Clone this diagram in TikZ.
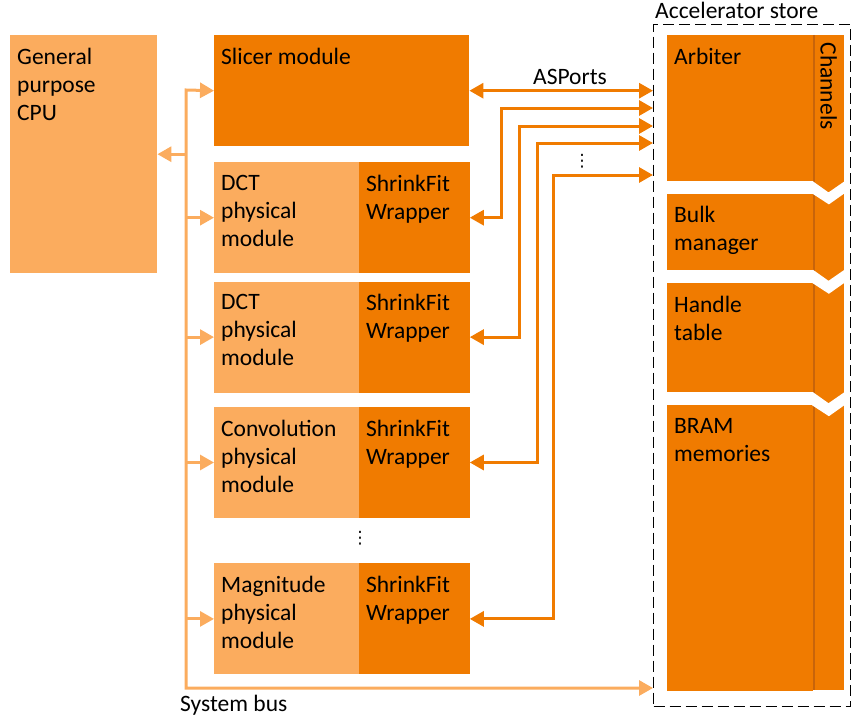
\documentclass[tikz,border=0pt]{standalone}
\usepackage{fontspec}
\setmainfont{Carlito}
\newfontfamily\symfont{DejaVu Sans}
\usetikzlibrary{arrows.meta,positioning}
\definecolor{lightor}{RGB}{251,172,94}
\definecolor{darkor}{RGB}{240,123,0}
\definecolor{chanshade}{RGB}{200,100,10}

\begin{document}
\begin{tikzpicture}[x=1pt, y=-1pt, >={Triangle[length=14pt,width=15pt]},
  every node/.style={font=\fontsize{23.5}{28}\selectfont},
  blk/.style={anchor=north west, inner sep=0pt, fill=#1},
  txt/.style={anchor=north west, align=left, inner xsep=7pt, inner ysep=13pt, execute at begin node=\strut},
  onetxt/.style={txt, yshift=3.5pt},
  vdots/.style={inner sep=0pt, font=\symfont\fontsize{17}{20}\selectfont},
  bus/.style={draw=lightor, line width=3pt},
  port/.style={draw=darkor, line width=3pt}]

  \useasboundingbox (0,0) rectangle (851,717);

  % CPU and slicer
  \node (cpu) [blk=lightor, minimum width=147pt, minimum height=238pt] at (10,35) {};
  \node (slicer) [blk=darkor, minimum width=255pt, minimum height=111pt] at (214,35) {};
  \node (cputxt) [txt] at (cpu.north west) {General\\purpose\\CPU};
  \node (slicertxt) [onetxt] at (slicer.north west) {Slicer module};

  % Physical modules with their wrappers
  \node (dcta) [blk=lightor, minimum width=145pt, minimum height=111pt] at (214,162) {};
  \node (dctb) [blk=lightor, minimum width=145pt, minimum height=111pt, below=8pt of dcta] {};
  \node (conv) [blk=lightor, minimum width=145pt, minimum height=111pt, below=14pt of dctb] {};
  \node (magn) [blk=lightor, minimum width=145pt, minimum height=111pt, below=45pt of conv] {};
  \foreach \m/\t in {dcta/DCT, dctb/DCT, conv/Convolution, magn/Magnitude} {
    \node (\m-wrap) [blk=darkor, minimum width=110.5pt, minimum height=111pt, right=-0.5pt of \m] {};
    \node (\m-txt) [txt] at (\m.north west) {\t\\physical\\module};
    \node (\m-wraptxt) [txt] at (\m-wrap.north west) {ShrinkFit\\Wrapper};
  }
  \node (dotsl) [vdots] at (360,538) {⋮};

  % Accelerator store
  \node (store) [anchor=north west, draw, line width=1.3pt, dash pattern=on 11pt off 5pt,
    minimum width=197pt, minimum height=682pt, inner sep=0pt] at (653,24) {};
  \node (storetxt) [anchor=base west, inner sep=0pt] at (655,19) {Accelerator store};
  \node (arb) [blk=darkor, minimum width=146pt, minimum height=146pt] at (667,35) {};
  \node (bulk) [blk=darkor, minimum width=146pt, minimum height=76pt, below=12pt of arb] {};
  \node (handle) [blk=darkor, minimum width=146pt, minimum height=109pt, below=13pt of bulk] {};
  \node (bram) [blk=darkor, minimum width=146pt, minimum height=286pt, below=13pt of handle] {};
  \node (chan) [blk=darkor, minimum width=31pt, minimum height=655pt] at (813,35) {};
  \draw[chanshade, line width=2pt] ([xshift=1pt]chan.north west) -- ([xshift=1pt]chan.south west);
  \foreach \u/\l in {arb/bulk, bulk/handle, handle/bram}
    \fill[white] (chan.west |- \u.south) -- ++(15.5,11) -- (chan.east |- \u.south)
      -- (chan.east |- \l.north) -- ++(-15.5,11) -- ([xshift=-1pt]chan.west |- \l.north) -- cycle;
  \node (chantxt) [rotate=-90, anchor=west] at ([yshift=-4pt]chan.north) {Channels};
  \node (arbtxt) [onetxt] at (arb.north west) {Arbiter};
  \node (bulktxt) [txt] at (bulk.north west) {Bulk\\manager};
  \node (handletxt) [txt] at (handle.north west) {Handle\\table};
  \node (bramtxt) [txt] at (bram.north west) {BRAM\\memories};

  % ASPorts
  \coordinate (pa) at (653,108);
  \coordinate (pb) at (653,126);
  \coordinate (pc) at (653,143);
  \coordinate (pd) at (653,175);
  \draw[port,<->] (slicer.east) -- (store.west |- slicer.east);
  \node (asports) at (570,77) {ASPorts};
  \draw[port,<->] (dcta-wrap.east) -| (501,108) -- (pa);
  \draw[port,<->] (dctb-wrap.east) -| (519,126) -- (pb);
  \draw[port,<->] (conv-wrap.east) -| (537,143) -- (pc);
  \draw[port,<->] (magn-wrap.east) -| (553,175) -- (pd);
  \node (dotsr) [vdots] at (582,161) {⋮};

  % System bus
  \coordinate (bustop) at (186,90);
  \coordinate (busbot) at (186,688);
  \draw[bus,<->] (slicer.west) -- (bustop) -- (busbot) -- (store.west |- busbot);
  \draw[bus,->] (bustop |- cpu.east) -- (cpu.east);
  \foreach \m in {dcta, dctb, conv, magn}
    \draw[bus,->] (bustop |- \m.west) -- (\m.west);
  \node (bustxt) [anchor=base west, inner sep=0pt] at (180,711) {System bus};

\end{tikzpicture}
\end{document}
